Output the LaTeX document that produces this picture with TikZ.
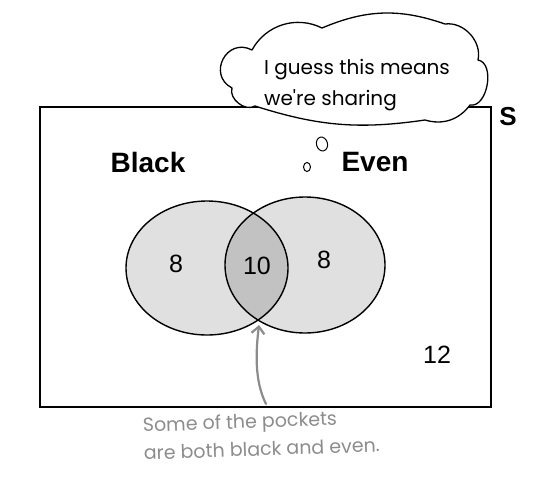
\documentclass[tikz,border=0pt]{standalone}
\usepackage{fontspec}
\setmainfont{Liberation Sans}
\newfontfamily\handfont{Poppins}
\usetikzlibrary{shapes.geometric,arrows.meta}
\definecolor{setgrey}{HTML}{E0E0E0}
\definecolor{bothgrey}{HTML}{C2C2C2}
\definecolor{notegrey}{HTML}{8C8C8C}
\tikzset{
  setline/.style={draw=black, line width=1.4pt},
  setname/.style={font=\bfseries\fontsize{28}{30}\selectfont},
  count/.style={font=\fontsize{25}{28}\selectfont},
  note/.style={text=notegrey, font=\handfont\fontsize{19}{28}\selectfont, align=left},
}

\begin{document}
\begin{tikzpicture}[x=1pt,y=-1pt]
        \useasboundingbox (0,0) rectangle (543,496);
        % Define the centres of the two sets
        \coordinate (L) at (207,268);
        \coordinate (R) at (305,265);
        % The sample space
        \draw[line width=1.6pt] (40,107) rectangle (491,407);
        \node[font=\bfseries\fontsize{26}{28}\selectfont] (S) at (508,117) {S};
        % Fill the sets and their overlap
        \fill[setgrey] (L) ellipse [x radius=81, y radius=67];
        \fill[setgrey] (R) ellipse [x radius=80, y radius=68];
        \begin{scope}
            \clip (L) ellipse [x radius=81, y radius=67];
            \fill[bothgrey] (R) ellipse [x radius=80, y radius=68];
        \end{scope}
        % Draw the outlines
        \draw[setline] (L) ellipse [x radius=81, y radius=67];
        \draw[setline] (R) ellipse [x radius=80, y radius=68];
        % Labels
        \node[setname] (black) at (148,162) {Black};
        \node[setname] (even) at (375,162) {Even};
        \node[count] (nblack) at (176,264) {8};
        \node[count] (nboth) at (257,266) {10};
        \node[count] (neven) at (324,260) {8};
        \node[count] (nrest) at (437,355) {12};
        % The thought cloud, drawn bump by bump
        \coordinate (c1) at (232,88);
        \coordinate (c2) at (252,50);
        \coordinate (c3) at (322,28);
        \coordinate (c4) at (445,24);
        \coordinate (c5) at (478,60);
        \coordinate (c6) at (470,105);
        \coordinate (c7) at (425,120);
        \coordinate (c8) at (255,106);
        \draw[line width=1.3pt, fill=white, line join=round]
            (c1) to[bend left=90, looseness=1.7] (c2) to[bend left=44] (c3)
            to[bend left=21] (c4) to[bend left=55] (c5) to[bend left=90] (c6)
            to[bend left=35] (c7) to[bend left=13] (c8) to[bend left=70] (c1) -- cycle;
        \node[font=\handfont\fontsize{20}{31}\selectfont, align=left] (thought) at (357,85)
            {I guess this means\\we're sharing};
        \node[ellipse, draw=black, line width=1pt, minimum width=11pt, minimum height=14pt,
              inner sep=0pt, rotate=15] (puffA) at (322,144) {};
        \node[ellipse, draw=black, line width=1pt, minimum width=7pt, minimum height=9pt,
              inner sep=0pt] (puffB) at (307,167) {};
        % The note and its arrow
        \coordinate (meet) at (259,325);
        \coordinate (tail) at (266,404);
        \node[note, anchor=north west, rotate=2] (comment) at (139,414)
            {Some of the pockets\\are both black and even.};
        \draw[notegrey, line width=2.2pt, line cap=round, -{Straight Barb[length=7pt,width=13pt]}]
            (tail) .. controls (254,380) and (256,350) .. (meet);
\end{tikzpicture}
\end{document}
